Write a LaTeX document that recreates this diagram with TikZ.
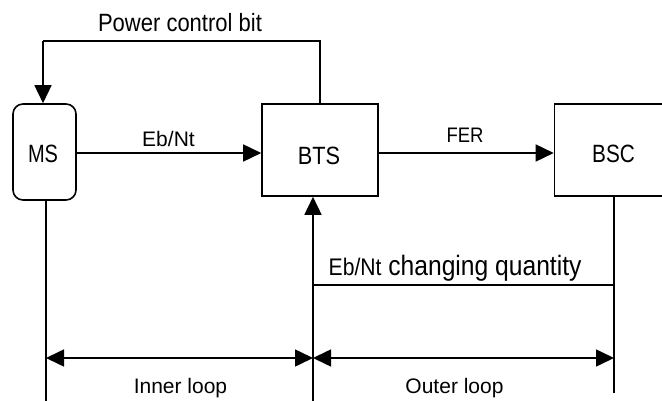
\documentclass[tikz,border=0pt]{standalone}
\usepackage{fontspec}
\setmainfont{Liberation Sans}
\usetikzlibrary{arrows.meta}
\begin{document}
\begin{tikzpicture}[x=1pt,y=-1pt,
  line width=1.6pt,
  tip/.style={-{Triangle[length=18pt,width=17pt]}},
  dtip/.style={{Triangle[length=18pt,width=17pt]}-{Triangle[length=18pt,width=17pt]}},
  lbl/.style={font=\fontsize{21}{24}\selectfont, inner sep=0pt, anchor=base},
  big/.style={font=\fontsize{25}{28}\selectfont},
  box/.style={draw, inner sep=0pt}]
\useasboundingbox (0,0) rectangle (662,401);
% nodes
\node[box, rounded corners=10pt, minimum width=63pt, minimum height=96pt] (ms) at (44.5,152) {};
\node[lbl, big, xscale=0.8] (mst) at (43,163) {MS};
\node[box, minimum width=116pt, minimum height=92pt] (bts) at (320,150) {};
\node[lbl, big, xscale=0.87] (btst) at (319,165) {BTS};
\node[box, minimum width=109pt, minimum height=92pt] (bsc) at (609,150) {};
\node[lbl, big, xscale=0.83] (bsct) at (613.5,163) {BSC};
% coordinates
\coordinate (pcR) at (320,41);
\coordinate (pcL) at (43,41);
\coordinate (msB) at (46,401);
\coordinate (msA) at (46,358);
\coordinate (btsV) at (313,285);
\coordinate (btsA) at (313,358);
\coordinate (btsE) at (313,401);
\coordinate (bscV) at (614,285);
\coordinate (bscA) at (614,358);
\coordinate (bscE) at (614,393);
% power control loop
\draw (bts.north -| pcR) -- (pcR) -- (pcL);
\draw[tip] (pcL) -- (ms.north -| pcL);
\node[lbl, big, xscale=0.88] (pcb) at (180,32) {Power control bit};
% Eb/Nt
\draw[tip] (ms.east |- 0,153) -- (bts.west |- 0,153);
\node[lbl] (ebnt) at (168.5,147) {Eb/Nt};
% FER
\draw[tip] (bts.east |- 0,153) -- (bsc.west |- 0,153);
\node[lbl, xscale=0.88] (fer) at (465,143) {FER};
% verticals
\draw (ms.south -| msB) -- (msB);
\draw[tip] (btsV) -- (bts.south -| btsV);
\draw (btsV) -- (btsE);
\draw (bsc.south -| bscV) -- (bscE);
\draw (btsV) -- (bscV);
\node[lbl, anchor=base west, xscale=0.88, font=\fontsize{28}{30}\selectfont] (chg) at (328,275) {{\fontsize{24}{26}\selectfont Eb/Nt} changing quantity};
% loop arrows
\draw[dtip] (msA) -- (btsA);
\draw[dtip] (btsA) -- (bscA);
\node[lbl] (inner) at (180.5,393) {Inner loop};
\node[lbl] (outer) at (454.5,393) {Outer loop};
\end{tikzpicture}
\end{document}
